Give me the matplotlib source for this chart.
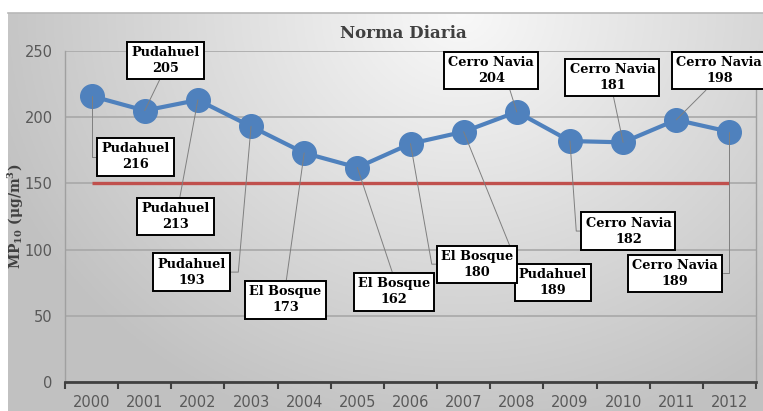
import matplotlib
matplotlib.use('Agg')
import matplotlib.pyplot as plt
import numpy as np

years = ['2000', '2001', '2002', '2003', '2004', '2005', '2006',
         '2007', '2008', '2009', '2010', '2011', '2012']
mp10 = [216, 205, 213, 193, 173, 162, 180, 189, 204, 182, 181, 198, 189]
estaciones = ['Pudahuel', 'Pudahuel', 'Pudahuel', 'Pudahuel', 'El Bosque', 'El Bosque',
              'El Bosque', 'Pudahuel', 'Cerro Navia', 'Cerro Navia', 'Cerro Navia',
              'Cerro Navia', 'Cerro Navia']
norma = 150

# label box centers (data coords) and leader style per label
label_pos = [(0.83, 170), (1.39, 243), (1.58, 125), (1.88, 83), (3.65, 62),
             (5.69, 68), (7.25, 89), (8.68, 75), (7.52, 235), (10.1, 114),
             (9.8, 230), (11.81, 235), (10.98, 82)]
# elbow leaders: angle of the line leaving the point, relpos on the box
elbow = {0: (-90, (0, 0.5)), 3: (-95, (1, 0.5)), 6: (-80, (0, 0.5)),
         9: (-86, (0, 0.5)), 12: (-90, (1, 0.5))}
relpos_straight = {1: (0.45, 0), 2: (0.55, 1), 4: (0.5, 1), 5: (0.5, 1),
                   7: (0.0, 1), 8: (0.7, 0), 10: (0.5, 0), 11: (0.4, 0)}

plt.rcParams['mathtext.fontset'] = 'dejavuserif'

fig = plt.figure(figsize=(7.63, 4.11), dpi=100)

# gradient background of the chart area
bg = fig.add_axes([8 / 763, 0, 1 - 8 / 763, 1 - 13 / 411], zorder=-5)
X, Y = np.meshgrid(np.linspace(0, 1, 300), np.linspace(0, 1, 160))
d = np.sqrt(((X - 0.6) / 0.65) ** 2 + ((Y - 0.0) / 1.1) ** 2)
d = np.clip(d, 0, 1)
v = 0.975 - 0.215 * d
bg.imshow(np.dstack([v, v, v]), aspect='auto', extent=(0, 1, 0, 1), origin='upper')
bg.set_axis_off()
fig.add_artist(plt.Line2D([8 / 763, 1], [1 - 13 / 411, 1 - 13 / 411],
                          transform=fig.transFigure, color='#b8b8b8', lw=1.2))

ax = fig.add_axes([65 / 763, 1 - 382 / 411, (756 - 65) / 763, (382 - 51) / 411])
ax.patch.set_alpha(0)
x = np.arange(len(years))

ax.set_xlim(-0.5, len(years) - 0.5)
ax.set_ylim(0, 250)
ax.set_yticks([0, 50, 100, 150, 200, 250])
ax.grid(axis='y', color='#a8a8a8', lw=1.2, zorder=0)
ax.set_axisbelow(True)

ax.hlines(norma, x[0], x[-1], color='#C0504D', lw=2.4, zorder=2)
ax.plot(x, mp10, color='#4F81BD', lw=3.0, marker='o', markersize=17,
        markerfacecolor='#4F81BD', markeredgecolor='#4F81BD', zorder=3)

for i, (lx, ly) in enumerate(label_pos):
    txt = '{}\n{}'.format(estaciones[i], mp10[i])
    if i in elbow:
        angB, rp = elbow[i]
        ap = dict(arrowstyle='-', color='#7f7f7f', lw=0.7, shrinkA=0, shrinkB=0,
                  relpos=rp, connectionstyle='angle,angleA=0,angleB={},rad=0'.format(angB))
    else:
        ap = dict(arrowstyle='-', color='#7f7f7f', lw=0.7, shrinkA=0, shrinkB=0,
                  relpos=relpos_straight[i])
    ax.annotate(txt, xy=(x[i], mp10[i]), xytext=(lx, ly), ha='center', va='center',
                fontsize=9.3, fontweight='bold', family='DejaVu Serif', color='black',
                linespacing=1.3,
                bbox=dict(boxstyle='square,pad=0.32', fc='white', ec='black', lw=1.4),
                arrowprops=ap, zorder=6 if i == 6 else 5, annotation_clip=False)

ax.set_xticks(x)
ax.set_xticklabels(years)
ax.set_xticks(np.arange(-0.5, len(years)), minor=True)
ax.tick_params(axis='x', which='major', length=0, pad=9, labelsize=10.5, labelcolor='#595959')
ax.tick_params(axis='x', which='minor', length=5, width=1.5, color='#404040', direction='out')
ax.tick_params(axis='y', length=0, pad=9, labelsize=10.5, labelcolor='#595959')

for s in ['left', 'right']:
    ax.spines[s].set_color('#a0a0a0')
    ax.spines[s].set_linewidth(1.0)
ax.spines['top'].set_visible(False)
ax.spines['bottom'].set_color('#404040')
ax.spines['bottom'].set_linewidth(2.0)

ax.set_ylabel(r'MP$_{\mathbf{10}}$ ($\mathbf{\mu}$g/m$^{\mathbf{3}}$)', fontsize=10,
              fontweight='bold', family='DejaVu Serif', color='#404040')
ax.yaxis.set_label_coords(-0.057, 0.5)

fig.text(403 / 763, 1 - 33 / 411, 'Norma Diaria', ha='center', va='center',
         fontsize=12, fontweight='bold', family='DejaVu Serif', color='#404040')

fig.savefig('out.png', dpi=100)
